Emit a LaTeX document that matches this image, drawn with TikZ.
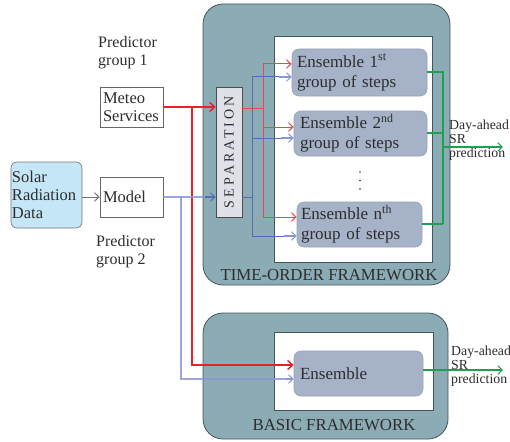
\documentclass[tikz,border=0pt]{standalone}
\usepackage{fontspec}
\setmainfont{Liberation Serif}
\newfontfamily\spacedfont[LetterSpace=22]{Liberation Serif}
\usetikzlibrary{arrows.meta}
\definecolor{teal1}{RGB}{139,171,181}
\definecolor{ensfill}{RGB}{165,178,199}
\definecolor{ensdraw}{RGB}{150,162,182}
\definecolor{frameline}{RGB}{70,85,92}
\definecolor{sepfill}{RGB}{222,225,231}
\definecolor{solarfill}{RGB}{196,230,247}
\definecolor{redA}{RGB}{232,32,42}
\definecolor{redB}{RGB}{230,72,78}
\definecolor{blueA}{RGB}{84,108,182}
\definecolor{lav}{RGB}{140,150,212}
\definecolor{greenA}{RGB}{30,160,80}
\definecolor{txt}{RGB}{45,45,45}
\tikzset{
  fw/.style={draw=frameline, line width=0.8pt, fill=teal1, rounded corners=20pt},
  inner/.style={draw=frameline, line width=0.8pt, fill=white},
  ens/.style={draw=ensdraw, line width=0.6pt, fill=ensfill, rounded corners=7pt, inner sep=0pt, text=txt, font=\fontsize{17}{20}\selectfont},
  plainbox/.style={draw=black!60, line width=0.6pt, fill=white, inner sep=0pt, text=txt, font=\fontsize{16.5}{18}\selectfont},
  lbl/.style={text=txt, inner sep=0pt, align=left},
  redthick/.style={draw=redA, line width=2.6pt},
  lavthick/.style={draw=lav, line width=2.4pt, opacity=0.85},
  redthin/.style={draw=redB, line width=1pt},
  bluethin/.style={draw=blueA, line width=1pt},
  greenl/.style={draw=greenA, line width=1.3pt},
  tipR/.style={-{Straight Barb[length=5pt,width=9pt,line width=1.4pt]}},
  tipr/.style={-{Straight Barb[length=4.5pt,width=8.5pt,line width=1pt]}},
}
\begin{document}
\begin{tikzpicture}[x=1pt,y=-1pt]
\useasboundingbox (0,0) rectangle (510,441);
% frameworks
\draw[fw] (203,4) rectangle (450,285);
\draw[inner] (274,36) rectangle (432,262);
\node[lbl, font=\fontsize{16.8}{18}\selectfont] (tolabel) at (329,275) {TIME-ORDER FRAMEWORK};
\draw[fw] (203,313) rectangle (448,439);
\draw[inner] (274,332) rectangle (433,410);
\node[lbl, font=\fontsize{16.8}{18}\selectfont] (bflabel) at (334,425) {BASIC FRAMEWORK};

% left nodes
\node[lbl, anchor=north west, font=\fontsize{16}{18.5}\selectfont] (pg1) at (98,36) {Predictor\\group 1};
\node[lbl, anchor=north west, font=\fontsize{16}{18.5}\selectfont] (pg2) at (96,235) {Predictor\\group 2};
\node[plainbox, minimum width=63pt, minimum height=40pt, align=left, text width=57pt] (meteo) at (131.5,107) {Meteo\\Services};
\node[plainbox, minimum width=63pt, minimum height=40pt, align=left, text width=57pt] (model) at (131.5,197) {Model};
\node[plainbox, draw=black!55, fill=solarfill, rounded corners=6pt, minimum width=71pt, minimum height=66pt, align=left, text width=69pt] (solar) at (46.5,195) {Solar\\Radiation\\Data};

% separation
\node[draw=black!70, line width=0.6pt, fill=sepfill, minimum width=26pt, minimum height=130pt, inner sep=0pt] (sep) at (229,152) {};
\node[rotate=90, text=txt, inner sep=0pt, font=\spacedfont\fontsize{14}{16}\selectfont] (septext) at (sep.center) {SEPARATION};

% ensembles
\node[ens, minimum width=135pt, minimum height=47pt, align=left, text width=125pt] (e1) at (359.5,72.5) {Ensemble 1\textsuperscript{st}\\group of steps};
\node[ens, minimum width=133pt, minimum height=45pt, align=left, text width=121pt] (e2) at (360.5,133.5) {Ensemble 2\textsuperscript{nd}\\group of steps};
\node[ens, minimum width=125pt, minimum height=45pt, align=left, text width=117pt] (en) at (359.5,224.5) {Ensemble n\textsuperscript{th}\\group of steps};
\fill[txt] (360,172) circle (0.8pt) (360,180.5) circle (0.8pt) (360,189) circle (0.8pt);
\node[ens, minimum width=129pt, minimum height=45pt, align=left, text width=117pt] (eb) at (358.5,373.5) {Ensemble};

% outputs
\node[lbl, anchor=north west, font=\fontsize{13.8}{14}\selectfont] (out1) at (449,120) {Day-ahead\\SR\\prediction};
\node[lbl, anchor=north west, font=\fontsize{13.8}{14}\selectfont] (out2) at (451,346) {Day-ahead\\SR\\prediction};
\coordinate (g1) at (503,147);
\coordinate (g2) at (503,370);

% solar -> model
\draw[draw=black!55, line width=1pt, tipr] (solar.east |- model.west) -- (model.west);

% thick lines to basic framework
\draw[lavthick] (181,197) -- (181,379) -- (290,379);
\draw[draw=lav, line width=1.3pt, tipr] (286,379) -- (eb.west |- 0,379);
\draw[redthick] (192,107) -- (192,365) -- (288,365);
\draw[draw=redA, line width=1.4pt, tipR] (286,365) -- (eb.west |- 0,365);

% meteo -> separation
\draw[redthick] (meteo.east) -- (210,107);
\draw[draw=redA, line width=1.4pt, tipR] (208,107) -- (sep.west |- 0,107);
% model -> separation
\draw[lavthick] (model.east) -- (210,197);
\draw[draw=blueA, line width=1.3pt, tipr] (205,197) -- (sep.west |- 0,197);

% separation -> ensembles (red)
\draw[redthin] (sep.east |- 0,108) -- (263,108);
\draw[redthin] (263,64) -- (263,217);
\draw[redthin, tipr] (263,64) -- (e1.west |- 0,64);
\draw[redthin, tipr] (263,127) -- (e2.west |- 0,127);
\draw[redthin, tipr] (263,217) -- (en.west |- 0,217);
% separation -> ensembles (blue)
\draw[bluethin] (sep.east |- 0,197) -- (252,197);
\draw[bluethin] (252,77) -- (252,236);
\draw[bluethin] (252,77) -- (280,77);
\draw[bluethin] (252,138) -- (282,138);
\draw[bluethin] (252,236) -- (285,236);
\draw[draw=lav, line width=1.1pt, tipr] (279,77) -- (e1.west |- 0,77);
\draw[draw=lav, line width=1.1pt, tipr] (281,138) -- (e2.west |- 0,138);
\draw[draw=lav, line width=1.1pt, tipr] (284,236) -- (en.west |- 0,236);

% green
\draw[greenl] (e1.east |- 0,72) -- (443,72) -- (443,224);
\draw[greenl] (e2.east |- 0,133) -- (443,133);
\draw[greenl] (en.east |- 0,224) -- (443,224);
\draw[greenl, tipr] (443,147) -- (g1);
\draw[greenl, tipr] (eb.east |- 0,370) -- (g2);
\end{tikzpicture}
\end{document}
